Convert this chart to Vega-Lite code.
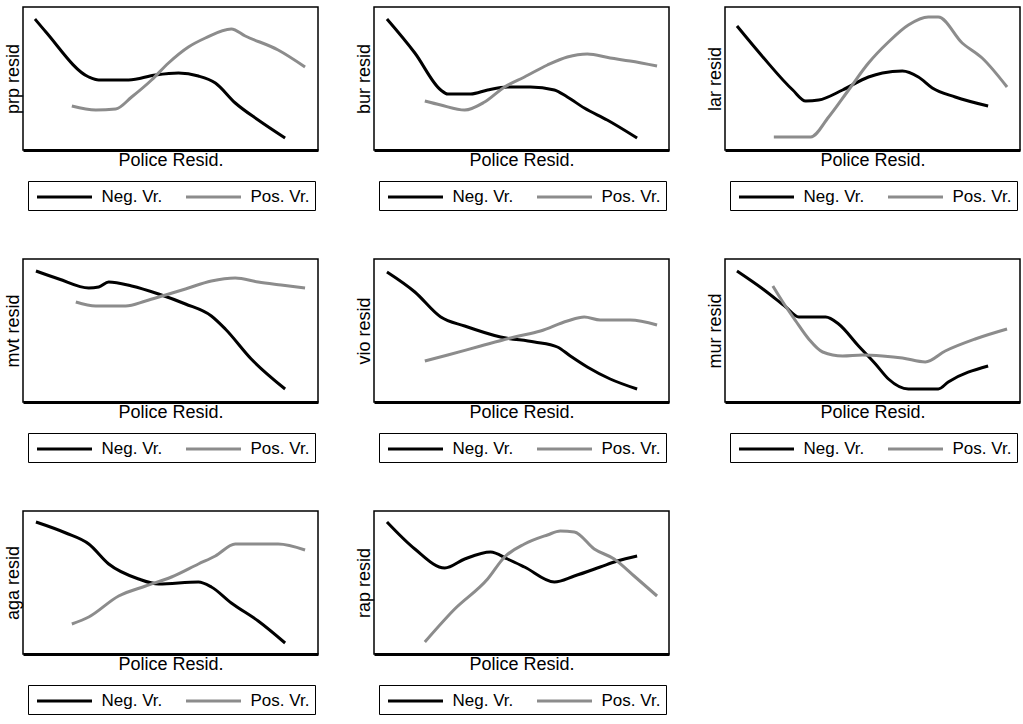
{
  "$schema": "https://vega.github.io/schema/vega-lite/v6.json",
  "background": "white",
  "padding": {"left": 3, "top": 6, "right": 0, "bottom": 0},
  "data": {"values": [
    {"p":"prp","s":"Neg. Vr.","x":12,"y":131},{"p":"prp","s":"Neg. Vr.","x":23,"y":118},{"p":"prp","s":"Neg. Vr.","x":66,"y":73},{"p":"prp","s":"Neg. Vr.","x":76,"y":70},{"p":"prp","s":"Neg. Vr.","x":106,"y":70},{"p":"prp","s":"Neg. Vr.","x":133,"y":75},{"p":"prp","s":"Neg. Vr.","x":156,"y":77},{"p":"prp","s":"Neg. Vr.","x":176,"y":74},{"p":"prp","s":"Neg. Vr.","x":193,"y":67},{"p":"prp","s":"Neg. Vr.","x":213,"y":47},{"p":"prp","s":"Neg. Vr.","x":236,"y":30},{"p":"prp","s":"Neg. Vr.","x":263,"y":12},
    {"p":"prp","s":"Pos. Vr.","x":49,"y":44},{"p":"prp","s":"Pos. Vr.","x":73,"y":40},{"p":"prp","s":"Pos. Vr.","x":93,"y":41},{"p":"prp","s":"Pos. Vr.","x":109,"y":53},{"p":"prp","s":"Pos. Vr.","x":129,"y":70},{"p":"prp","s":"Pos. Vr.","x":146,"y":87},{"p":"prp","s":"Pos. Vr.","x":166,"y":103},{"p":"prp","s":"Pos. Vr.","x":183,"y":112},{"p":"prp","s":"Pos. Vr.","x":209,"y":121},{"p":"prp","s":"Pos. Vr.","x":223,"y":114},{"p":"prp","s":"Pos. Vr.","x":256,"y":100},{"p":"prp","s":"Pos. Vr.","x":283,"y":83},
    {"p":"bur","s":"Neg. Vr.","x":13,"y":131},{"p":"bur","s":"Neg. Vr.","x":41,"y":97},{"p":"bur","s":"Neg. Vr.","x":67,"y":60},{"p":"bur","s":"Neg. Vr.","x":74,"y":56},{"p":"bur","s":"Neg. Vr.","x":97,"y":56},{"p":"bur","s":"Neg. Vr.","x":114,"y":60},{"p":"bur","s":"Neg. Vr.","x":134,"y":63},{"p":"bur","s":"Neg. Vr.","x":157,"y":63},{"p":"bur","s":"Neg. Vr.","x":181,"y":60},{"p":"bur","s":"Neg. Vr.","x":194,"y":53},{"p":"bur","s":"Neg. Vr.","x":211,"y":42},{"p":"bur","s":"Neg. Vr.","x":234,"y":30},{"p":"bur","s":"Neg. Vr.","x":264,"y":12},
    {"p":"bur","s":"Pos. Vr.","x":51,"y":49},{"p":"bur","s":"Pos. Vr.","x":67,"y":45},{"p":"bur","s":"Pos. Vr.","x":91,"y":40},{"p":"bur","s":"Pos. Vr.","x":111,"y":48},{"p":"bur","s":"Pos. Vr.","x":131,"y":63},{"p":"bur","s":"Pos. Vr.","x":151,"y":73},{"p":"bur","s":"Pos. Vr.","x":174,"y":85},{"p":"bur","s":"Pos. Vr.","x":194,"y":93},{"p":"bur","s":"Pos. Vr.","x":214,"y":96},{"p":"bur","s":"Pos. Vr.","x":237,"y":92},{"p":"bur","s":"Pos. Vr.","x":257,"y":89},{"p":"bur","s":"Pos. Vr.","x":284,"y":84},
    {"p":"lar","s":"Neg. Vr.","x":12,"y":124},{"p":"lar","s":"Neg. Vr.","x":38,"y":93},{"p":"lar","s":"Neg. Vr.","x":68,"y":60},{"p":"lar","s":"Neg. Vr.","x":81,"y":49},{"p":"lar","s":"Neg. Vr.","x":94,"y":50},{"p":"lar","s":"Neg. Vr.","x":118,"y":60},{"p":"lar","s":"Neg. Vr.","x":144,"y":73},{"p":"lar","s":"Neg. Vr.","x":158,"y":77},{"p":"lar","s":"Neg. Vr.","x":178,"y":79},{"p":"lar","s":"Neg. Vr.","x":194,"y":73},{"p":"lar","s":"Neg. Vr.","x":208,"y":62},{"p":"lar","s":"Neg. Vr.","x":231,"y":53},{"p":"lar","s":"Neg. Vr.","x":264,"y":44},
    {"p":"lar","s":"Pos. Vr.","x":49,"y":13},{"p":"lar","s":"Pos. Vr.","x":86,"y":13},{"p":"lar","s":"Pos. Vr.","x":104,"y":33},{"p":"lar","s":"Pos. Vr.","x":124,"y":60},{"p":"lar","s":"Pos. Vr.","x":144,"y":87},{"p":"lar","s":"Pos. Vr.","x":164,"y":108},{"p":"lar","s":"Pos. Vr.","x":184,"y":125},{"p":"lar","s":"Pos. Vr.","x":204,"y":133},{"p":"lar","s":"Pos. Vr.","x":214,"y":133},{"p":"lar","s":"Pos. Vr.","x":238,"y":107},{"p":"lar","s":"Pos. Vr.","x":258,"y":92},{"p":"lar","s":"Pos. Vr.","x":283,"y":63},
    {"p":"mvt","s":"Neg. Vr.","x":13,"y":131},{"p":"mvt","s":"Neg. Vr.","x":36,"y":123},{"p":"mvt","s":"Neg. Vr.","x":66,"y":114},{"p":"mvt","s":"Neg. Vr.","x":76,"y":115},{"p":"mvt","s":"Neg. Vr.","x":86,"y":120},{"p":"mvt","s":"Neg. Vr.","x":109,"y":116},{"p":"mvt","s":"Neg. Vr.","x":136,"y":108},{"p":"mvt","s":"Neg. Vr.","x":163,"y":98},{"p":"mvt","s":"Neg. Vr.","x":189,"y":86},{"p":"mvt","s":"Neg. Vr.","x":203,"y":73},{"p":"mvt","s":"Neg. Vr.","x":229,"y":43},{"p":"mvt","s":"Neg. Vr.","x":263,"y":13},
    {"p":"mvt","s":"Pos. Vr.","x":53,"y":100},{"p":"mvt","s":"Pos. Vr.","x":73,"y":96},{"p":"mvt","s":"Pos. Vr.","x":103,"y":96},{"p":"mvt","s":"Pos. Vr.","x":123,"y":101},{"p":"mvt","s":"Pos. Vr.","x":143,"y":107},{"p":"mvt","s":"Pos. Vr.","x":163,"y":113},{"p":"mvt","s":"Pos. Vr.","x":189,"y":121},{"p":"mvt","s":"Pos. Vr.","x":213,"y":124},{"p":"mvt","s":"Pos. Vr.","x":236,"y":120},{"p":"mvt","s":"Pos. Vr.","x":259,"y":117},{"p":"mvt","s":"Pos. Vr.","x":283,"y":114},
    {"p":"vio","s":"Neg. Vr.","x":13,"y":130},{"p":"vio","s":"Neg. Vr.","x":41,"y":110},{"p":"vio","s":"Neg. Vr.","x":67,"y":85},{"p":"vio","s":"Neg. Vr.","x":91,"y":76},{"p":"vio","s":"Neg. Vr.","x":127,"y":65},{"p":"vio","s":"Neg. Vr.","x":161,"y":60},{"p":"vio","s":"Neg. Vr.","x":184,"y":55},{"p":"vio","s":"Neg. Vr.","x":197,"y":46},{"p":"vio","s":"Neg. Vr.","x":214,"y":35},{"p":"vio","s":"Neg. Vr.","x":237,"y":23},{"p":"vio","s":"Neg. Vr.","x":264,"y":13},
    {"p":"vio","s":"Pos. Vr.","x":51,"y":41},{"p":"vio","s":"Pos. Vr.","x":74,"y":47},{"p":"vio","s":"Pos. Vr.","x":107,"y":56},{"p":"vio","s":"Pos. Vr.","x":141,"y":65},{"p":"vio","s":"Pos. Vr.","x":167,"y":71},{"p":"vio","s":"Pos. Vr.","x":194,"y":81},{"p":"vio","s":"Pos. Vr.","x":211,"y":85},{"p":"vio","s":"Pos. Vr.","x":227,"y":82},{"p":"vio","s":"Pos. Vr.","x":257,"y":82},{"p":"vio","s":"Pos. Vr.","x":284,"y":77},
    {"p":"mur","s":"Neg. Vr.","x":12,"y":131},{"p":"mur","s":"Neg. Vr.","x":38,"y":113},{"p":"mur","s":"Neg. Vr.","x":61,"y":95},{"p":"mur","s":"Neg. Vr.","x":74,"y":85},{"p":"mur","s":"Neg. Vr.","x":101,"y":85},{"p":"mur","s":"Neg. Vr.","x":114,"y":78},{"p":"mur","s":"Neg. Vr.","x":134,"y":56},{"p":"mur","s":"Neg. Vr.","x":151,"y":38},{"p":"mur","s":"Neg. Vr.","x":164,"y":23},{"p":"mur","s":"Neg. Vr.","x":184,"y":13},{"p":"mur","s":"Neg. Vr.","x":214,"y":13},{"p":"mur","s":"Neg. Vr.","x":224,"y":20},{"p":"mur","s":"Neg. Vr.","x":264,"y":36},
    {"p":"mur","s":"Pos. Vr.","x":48,"y":116},{"p":"mur","s":"Pos. Vr.","x":58,"y":100},{"p":"mur","s":"Pos. Vr.","x":71,"y":81},{"p":"mur","s":"Pos. Vr.","x":84,"y":63},{"p":"mur","s":"Pos. Vr.","x":98,"y":50},{"p":"mur","s":"Pos. Vr.","x":118,"y":46},{"p":"mur","s":"Pos. Vr.","x":138,"y":47},{"p":"mur","s":"Pos. Vr.","x":158,"y":46},{"p":"mur","s":"Pos. Vr.","x":178,"y":44},{"p":"mur","s":"Pos. Vr.","x":201,"y":40},{"p":"mur","s":"Pos. Vr.","x":221,"y":51},{"p":"mur","s":"Pos. Vr.","x":251,"y":63},{"p":"mur","s":"Pos. Vr.","x":283,"y":73},
    {"p":"aga","s":"Neg. Vr.","x":13,"y":132},{"p":"aga","s":"Neg. Vr.","x":43,"y":121},{"p":"aga","s":"Neg. Vr.","x":66,"y":110},{"p":"aga","s":"Neg. Vr.","x":86,"y":90},{"p":"aga","s":"Neg. Vr.","x":116,"y":75},{"p":"aga","s":"Neg. Vr.","x":136,"y":70},{"p":"aga","s":"Neg. Vr.","x":176,"y":72},{"p":"aga","s":"Neg. Vr.","x":189,"y":67},{"p":"aga","s":"Neg. Vr.","x":209,"y":51},{"p":"aga","s":"Neg. Vr.","x":236,"y":33},{"p":"aga","s":"Neg. Vr.","x":263,"y":11},
    {"p":"aga","s":"Pos. Vr.","x":49,"y":30},{"p":"aga","s":"Pos. Vr.","x":66,"y":37},{"p":"aga","s":"Pos. Vr.","x":96,"y":58},{"p":"aga","s":"Pos. Vr.","x":123,"y":68},{"p":"aga","s":"Pos. Vr.","x":149,"y":77},{"p":"aga","s":"Pos. Vr.","x":176,"y":90},{"p":"aga","s":"Pos. Vr.","x":193,"y":98},{"p":"aga","s":"Pos. Vr.","x":213,"y":110},{"p":"aga","s":"Pos. Vr.","x":256,"y":110},{"p":"aga","s":"Pos. Vr.","x":283,"y":104},
    {"p":"rap","s":"Neg. Vr.","x":13,"y":132},{"p":"rap","s":"Neg. Vr.","x":41,"y":105},{"p":"rap","s":"Neg. Vr.","x":71,"y":86},{"p":"rap","s":"Neg. Vr.","x":91,"y":95},{"p":"rap","s":"Neg. Vr.","x":117,"y":102},{"p":"rap","s":"Neg. Vr.","x":134,"y":95},{"p":"rap","s":"Neg. Vr.","x":151,"y":87},{"p":"rap","s":"Neg. Vr.","x":181,"y":72},{"p":"rap","s":"Neg. Vr.","x":201,"y":78},{"p":"rap","s":"Neg. Vr.","x":227,"y":87},{"p":"rap","s":"Neg. Vr.","x":244,"y":93},{"p":"rap","s":"Neg. Vr.","x":264,"y":98},
    {"p":"rap","s":"Pos. Vr.","x":51,"y":12},{"p":"rap","s":"Pos. Vr.","x":81,"y":45},{"p":"rap","s":"Pos. Vr.","x":114,"y":75},{"p":"rap","s":"Pos. Vr.","x":131,"y":97},{"p":"rap","s":"Pos. Vr.","x":151,"y":110},{"p":"rap","s":"Pos. Vr.","x":174,"y":119},{"p":"rap","s":"Pos. Vr.","x":187,"y":123},{"p":"rap","s":"Pos. Vr.","x":201,"y":122},{"p":"rap","s":"Pos. Vr.","x":221,"y":105},{"p":"rap","s":"Pos. Vr.","x":241,"y":95},{"p":"rap","s":"Pos. Vr.","x":261,"y":78},{"p":"rap","s":"Pos. Vr.","x":284,"y":58}
  ]},
  "columns": 3,
  "bounds": "flush",
  "spacing": {"row": 109, "column": 56},
  "resolve": {"scale": {"color": "independent"}, "legend": {"color": "independent"}},
  "concat": [
    {"width": 295, "height": 143, "transform": [{"filter": "datum.p == 'prp'"}], "mark": {"type": "line", "strokeWidth": 3, "interpolate": "monotone"},
     "encoding": {"x": {"field": "x", "type": "quantitative", "scale": {"domain": [0, 296], "nice": false}, "axis": {"title": "Police Resid."}},
       "y": {"field": "y", "type": "quantitative", "scale": {"domain": [0, 143], "nice": false, "zero": false}, "axis": {"title": "prp resid"}},
       "color": {"field": "s", "type": "nominal", "scale": {"domain": ["Neg. Vr.", "Pos. Vr."], "range": ["#000000", "#8c8c8c"]},
         "legend": {"title": null, "orient": "none", "legendX": 5, "legendY": 174, "direction": "horizontal", "symbolType": "M-3,0H3", "symbolSize": 336, "symbolStrokeWidth": 3, "symbolOffset": 20.5, "labelOffset": 26, "columnPadding": 17, "padding": 5, "strokeColor": "black", "labelFontSize": 17, "labelFont": "Liberation Sans", "labelColor": "black"}}}},
    {"width": 295, "height": 143, "transform": [{"filter": "datum.p == 'bur'"}], "mark": {"type": "line", "strokeWidth": 3, "interpolate": "monotone"},
     "encoding": {"x": {"field": "x", "type": "quantitative", "scale": {"domain": [0, 296], "nice": false}, "axis": {"title": "Police Resid."}},
       "y": {"field": "y", "type": "quantitative", "scale": {"domain": [0, 143], "nice": false, "zero": false}, "axis": {"title": "bur resid"}},
       "color": {"field": "s", "type": "nominal", "scale": {"domain": ["Neg. Vr.", "Pos. Vr."], "range": ["#000000", "#8c8c8c"]},
         "legend": {"title": null, "orient": "none", "legendX": 5, "legendY": 174, "direction": "horizontal", "symbolType": "M-3,0H3", "symbolSize": 336, "symbolStrokeWidth": 3, "symbolOffset": 20.5, "labelOffset": 26, "columnPadding": 17, "padding": 5, "strokeColor": "black", "labelFontSize": 17, "labelFont": "Liberation Sans", "labelColor": "black"}}}},
    {"width": 295, "height": 143, "transform": [{"filter": "datum.p == 'lar'"}], "mark": {"type": "line", "strokeWidth": 3, "interpolate": "monotone"},
     "encoding": {"x": {"field": "x", "type": "quantitative", "scale": {"domain": [0, 296], "nice": false}, "axis": {"title": "Police Resid."}},
       "y": {"field": "y", "type": "quantitative", "scale": {"domain": [0, 143], "nice": false, "zero": false}, "axis": {"title": "lar resid"}},
       "color": {"field": "s", "type": "nominal", "scale": {"domain": ["Neg. Vr.", "Pos. Vr."], "range": ["#000000", "#8c8c8c"]},
         "legend": {"title": null, "orient": "none", "legendX": 5, "legendY": 174, "direction": "horizontal", "symbolType": "M-3,0H3", "symbolSize": 336, "symbolStrokeWidth": 3, "symbolOffset": 20.5, "labelOffset": 26, "columnPadding": 17, "padding": 5, "strokeColor": "black", "labelFontSize": 17, "labelFont": "Liberation Sans", "labelColor": "black"}}}},
    {"width": 295, "height": 143, "transform": [{"filter": "datum.p == 'mvt'"}], "mark": {"type": "line", "strokeWidth": 3, "interpolate": "monotone"},
     "encoding": {"x": {"field": "x", "type": "quantitative", "scale": {"domain": [0, 296], "nice": false}, "axis": {"title": "Police Resid."}},
       "y": {"field": "y", "type": "quantitative", "scale": {"domain": [0, 143], "nice": false, "zero": false}, "axis": {"title": "mvt resid"}},
       "color": {"field": "s", "type": "nominal", "scale": {"domain": ["Neg. Vr.", "Pos. Vr."], "range": ["#000000", "#8c8c8c"]},
         "legend": {"title": null, "orient": "none", "legendX": 5, "legendY": 174, "direction": "horizontal", "symbolType": "M-3,0H3", "symbolSize": 336, "symbolStrokeWidth": 3, "symbolOffset": 20.5, "labelOffset": 26, "columnPadding": 17, "padding": 5, "strokeColor": "black", "labelFontSize": 17, "labelFont": "Liberation Sans", "labelColor": "black"}}}},
    {"width": 295, "height": 143, "transform": [{"filter": "datum.p == 'vio'"}], "mark": {"type": "line", "strokeWidth": 3, "interpolate": "monotone"},
     "encoding": {"x": {"field": "x", "type": "quantitative", "scale": {"domain": [0, 296], "nice": false}, "axis": {"title": "Police Resid."}},
       "y": {"field": "y", "type": "quantitative", "scale": {"domain": [0, 143], "nice": false, "zero": false}, "axis": {"title": "vio resid"}},
       "color": {"field": "s", "type": "nominal", "scale": {"domain": ["Neg. Vr.", "Pos. Vr."], "range": ["#000000", "#8c8c8c"]},
         "legend": {"title": null, "orient": "none", "legendX": 5, "legendY": 174, "direction": "horizontal", "symbolType": "M-3,0H3", "symbolSize": 336, "symbolStrokeWidth": 3, "symbolOffset": 20.5, "labelOffset": 26, "columnPadding": 17, "padding": 5, "strokeColor": "black", "labelFontSize": 17, "labelFont": "Liberation Sans", "labelColor": "black"}}}},
    {"width": 295, "height": 143, "transform": [{"filter": "datum.p == 'mur'"}], "mark": {"type": "line", "strokeWidth": 3, "interpolate": "monotone"},
     "encoding": {"x": {"field": "x", "type": "quantitative", "scale": {"domain": [0, 296], "nice": false}, "axis": {"title": "Police Resid."}},
       "y": {"field": "y", "type": "quantitative", "scale": {"domain": [0, 143], "nice": false, "zero": false}, "axis": {"title": "mur resid"}},
       "color": {"field": "s", "type": "nominal", "scale": {"domain": ["Neg. Vr.", "Pos. Vr."], "range": ["#000000", "#8c8c8c"]},
         "legend": {"title": null, "orient": "none", "legendX": 5, "legendY": 174, "direction": "horizontal", "symbolType": "M-3,0H3", "symbolSize": 336, "symbolStrokeWidth": 3, "symbolOffset": 20.5, "labelOffset": 26, "columnPadding": 17, "padding": 5, "strokeColor": "black", "labelFontSize": 17, "labelFont": "Liberation Sans", "labelColor": "black"}}}},
    {"width": 295, "height": 143, "transform": [{"filter": "datum.p == 'aga'"}], "mark": {"type": "line", "strokeWidth": 3, "interpolate": "monotone"},
     "encoding": {"x": {"field": "x", "type": "quantitative", "scale": {"domain": [0, 296], "nice": false}, "axis": {"title": "Police Resid."}},
       "y": {"field": "y", "type": "quantitative", "scale": {"domain": [0, 143], "nice": false, "zero": false}, "axis": {"title": "aga resid"}},
       "color": {"field": "s", "type": "nominal", "scale": {"domain": ["Neg. Vr.", "Pos. Vr."], "range": ["#000000", "#8c8c8c"]},
         "legend": {"title": null, "orient": "none", "legendX": 5, "legendY": 174, "direction": "horizontal", "symbolType": "M-3,0H3", "symbolSize": 336, "symbolStrokeWidth": 3, "symbolOffset": 20.5, "labelOffset": 26, "columnPadding": 17, "padding": 5, "strokeColor": "black", "labelFontSize": 17, "labelFont": "Liberation Sans", "labelColor": "black"}}}},
    {"width": 295, "height": 143, "transform": [{"filter": "datum.p == 'rap'"}], "mark": {"type": "line", "strokeWidth": 3, "interpolate": "monotone"},
     "encoding": {"x": {"field": "x", "type": "quantitative", "scale": {"domain": [0, 296], "nice": false}, "axis": {"title": "Police Resid."}},
       "y": {"field": "y", "type": "quantitative", "scale": {"domain": [0, 143], "nice": false, "zero": false}, "axis": {"title": "rap resid"}},
       "color": {"field": "s", "type": "nominal", "scale": {"domain": ["Neg. Vr.", "Pos. Vr."], "range": ["#000000", "#8c8c8c"]},
         "legend": {"title": null, "orient": "none", "legendX": 5, "legendY": 174, "direction": "horizontal", "symbolType": "M-3,0H3", "symbolSize": 336, "symbolStrokeWidth": 3, "symbolOffset": 20.5, "labelOffset": 26, "columnPadding": 17, "padding": 5, "strokeColor": "black", "labelFontSize": 17, "labelFont": "Liberation Sans", "labelColor": "black"}}}}
  ],
  "config": {
    "view": {"stroke": "black", "strokeWidth": 1.5},
    "axis": {"labels": false, "ticks": false, "grid": false, "domain": false, "titleFont": "Liberation Sans", "titleFontSize": 18, "titleFontWeight": "normal", "titleColor": "black"},
    "axisX": {"domain": true, "domainColor": "black", "domainWidth": 3, "titlePadding": 1},
    "axisY": {"titlePadding": 1}
  }
}
